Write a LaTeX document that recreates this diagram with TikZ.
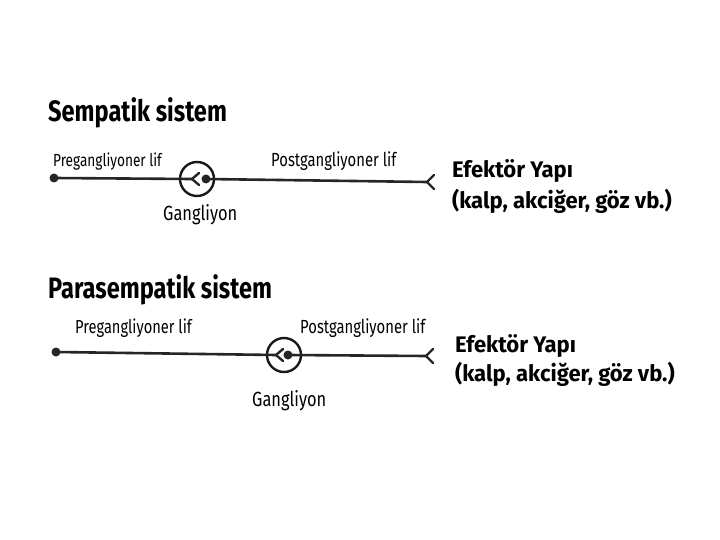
\documentclass[tikz,border=0pt]{standalone}
\usepackage{fontspec}
\setmainfont{Fira Sans}[FakeStretch=0.78]
\newfontfamily\ttlfont{Fira Sans}[FakeStretch=0.8]
\newfontfamily\efffont{Fira Sans}[FakeStretch=0.98]
\newfontfamily\ganfont{Fira Sans}[FakeStretch=0.8]
\begin{document}
\begin{tikzpicture}[x=1pt,y=-1pt,
  ttl/.style={anchor=base west,inner sep=0pt,font=\ttlfont\fontsize{29.5}{31}\selectfont\bfseries},
  lbl/.style={anchor=base west,inner sep=0pt,font=\fontsize{18.5}{20}\selectfont},
  gan/.style={anchor=base west,inner sep=0pt,font=\ganfont\fontsize{20.5}{22}\selectfont},
  eff/.style={anchor=base west,inner sep=0pt,font=\efffont\fontsize{22.5}{24}\selectfont\bfseries},
  fiber/.style={line width=2.6pt,draw=black!85},
  gcirc/.style={circle,draw=black!90,line width=2.4pt,minimum size=34pt,inner sep=0pt},
  enddot/.style={circle,fill=black!85,minimum size=9pt,inner sep=0pt},
  fork/.style={line width=2.4pt,draw=black!85,line cap=round}]
\useasboundingbox (0,0) rectangle (720,540);
\fill[white] (0,0) rectangle (720,540);

% ---------- Sympathetic ----------
\node[ttl] (t1) at (48,122) {Sempatik sistem};
\node[enddot] (s1) at (54,178) {};
\node[gcirc] (g1) at (197,179) {};
\coordinate (f1) at (192,179);
\node[enddot] (d1) at (206,179) {};
\coordinate (e1) at (427,182);
\draw[fiber] (s1.center) -- (f1);
\draw[fork] (f1) -- ++(7,-6) (f1) -- ++(7,6);
\draw[fiber] (d1.center) -- (e1);
\draw[fork] (e1) -- ++(7,-7) (e1) -- ++(7,7);
\node[lbl,font=\fontsize{17.5}{19}\selectfont] (p1) at (53,167) {Pregangliyoner lif};
\node[lbl,font=\fontsize{19}{21}\selectfont] (q1) at (271,167) {Postgangliyoner lif};
\node[gan] (n1) at (163,221) {Gangliyon};
\node[eff] (a1) at (452,178) {Efektör Yapı};
\node[eff] (b1) at (452,208) {(kalp, akciğer, göz vb.)};

% ---------- Parasympathetic ----------
\node[ttl] (t2) at (48,298) {Parasempatik sistem};
\node[enddot] (s2) at (56,352) {};
\node[gcirc] (g2) at (284,355) {};
\coordinate (f2) at (276,355);
\node[enddot] (d2) at (288,355) {};
\coordinate (e2) at (426,356);
\draw[fiber] (s2.center) -- (f2);
\draw[fork] (f2) -- ++(7,-6) (f2) -- ++(7,6);
\draw[fiber] (d2.center) -- (e2);
\draw[fork] (e2) -- ++(7,-7) (e2) -- ++(7,7);
\node[lbl,font=\fontsize{18.8}{20}\selectfont] (p2) at (75,333) {Pregangliyoner lif};
\node[lbl,font=\fontsize{19}{21}\selectfont] (q2) at (300,333) {Postgangliyoner lif};
\node[gan] (n2) at (252,406) {Gangliyon};
\node[eff] (a2) at (455,352) {Efektör Yapı};
\node[eff] (b2) at (455,381) {(kalp, akciğer, göz vb.)};
\end{tikzpicture}
\end{document}
